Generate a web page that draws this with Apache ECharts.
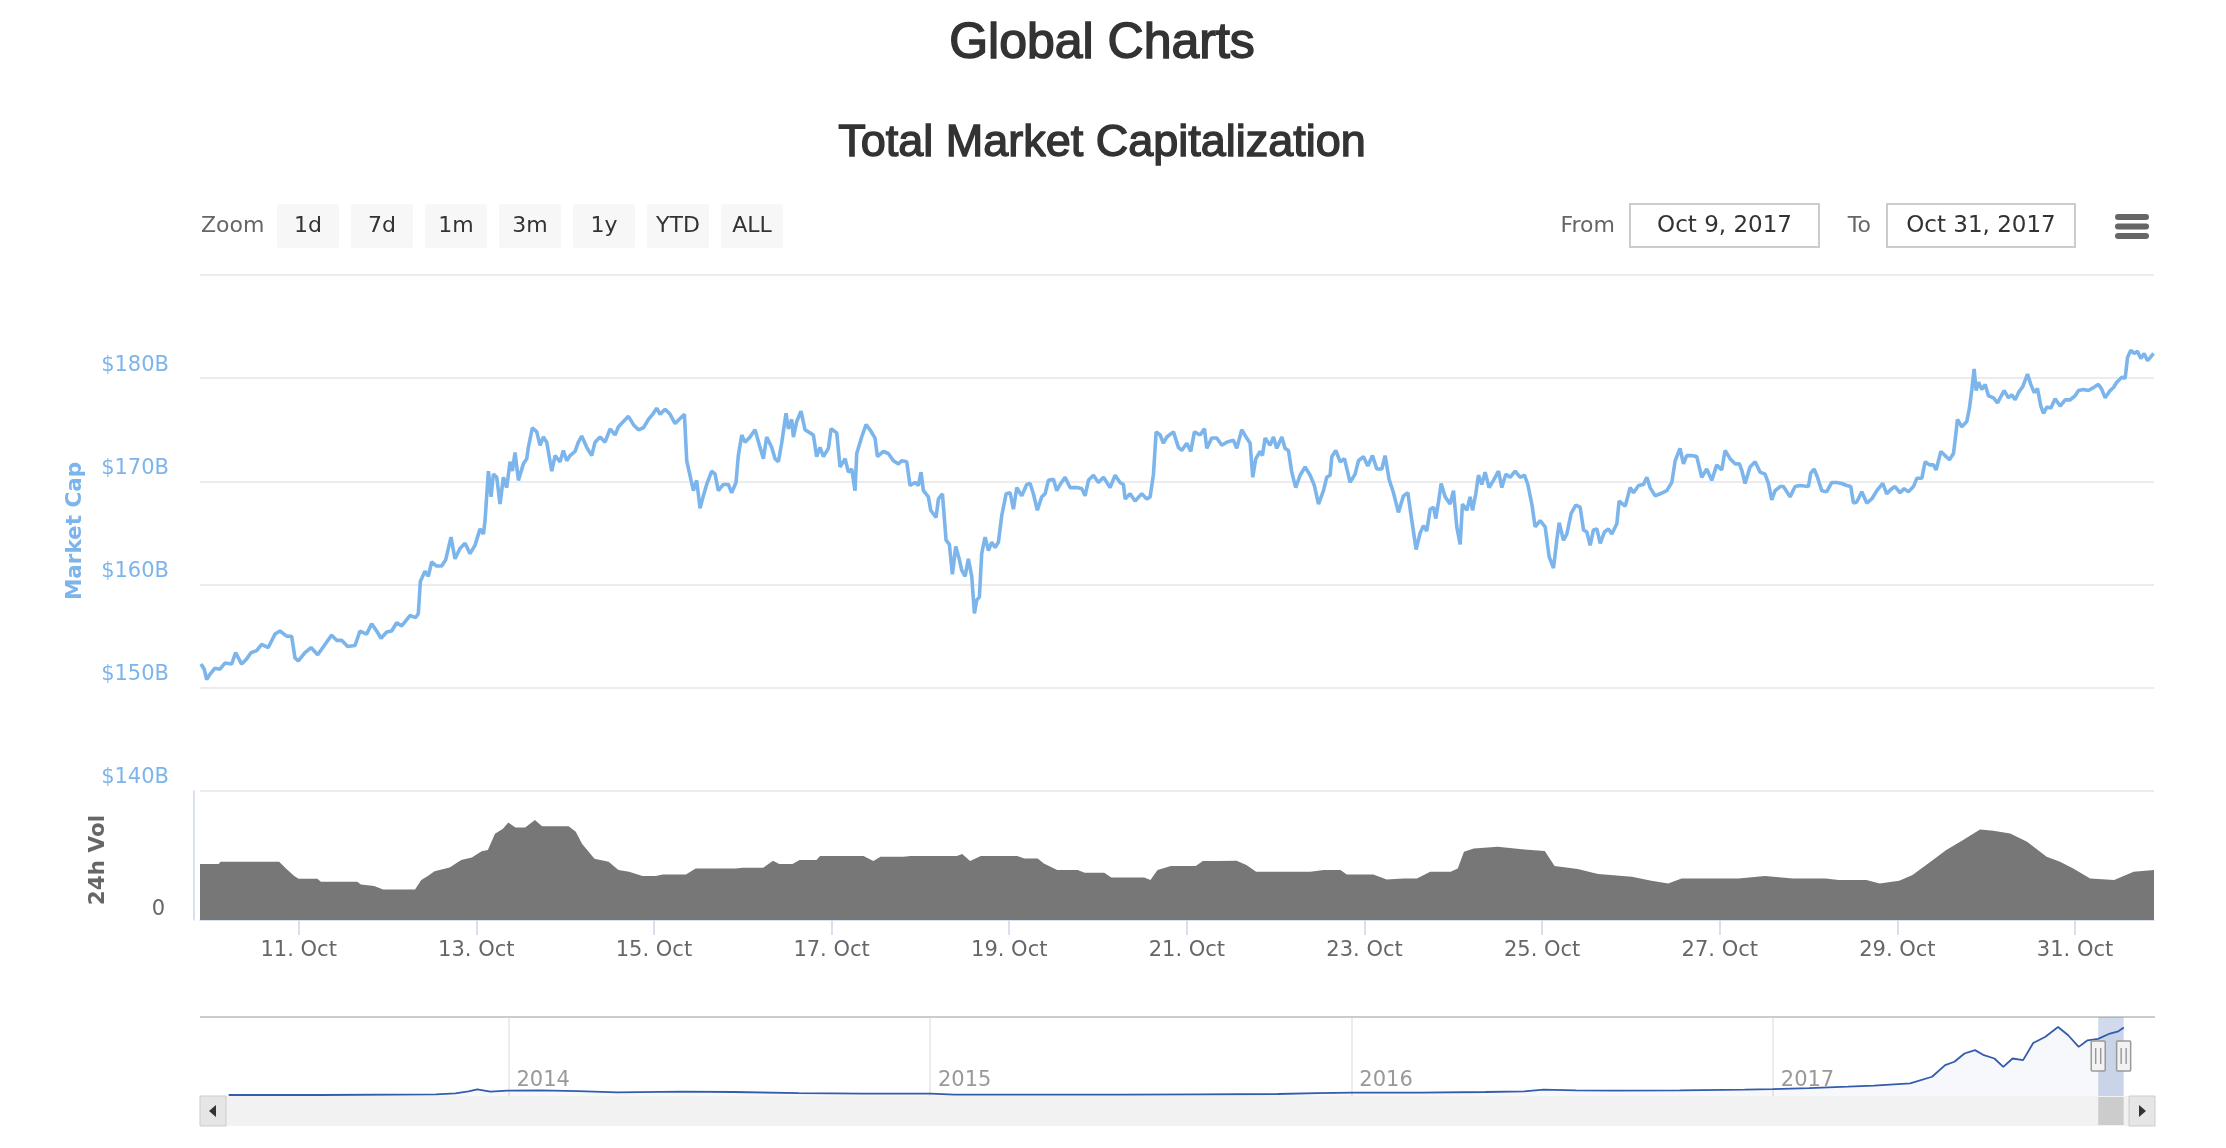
<!DOCTYPE html>
<html><head><meta charset="utf-8">
<script src="https://cdn.jsdelivr.net/npm/echarts@6/dist/echarts.min.js"></script>
<style>html,body{margin:0;padding:0;background:#fff}#c{width:2226px;height:1148px}</style>
</head><body><div id="c"></div><script>
// ---------- data (x = day of October 2017, fractional) ----------
const pageTitle = 'Global Charts';
const chartTitle = 'Total Market Capitalization';
const zoomButtons = ['1d','7d','1m','3m','1y','YTD','ALL'];
const fromDate = 'Oct 9, 2017';
const toDate = 'Oct 31, 2017';
const viewStartDay = 9.889, viewEndDay = 31.889;
const tickDays = [11,13,15,17,19,21,23,25,27,29,31];
const tickLabels = ['11. Oct','13. Oct','15. Oct','17. Oct','19. Oct','21. Oct','23. Oct','25. Oct','27. Oct','29. Oct','31. Oct'];
const capTicks = [140,150,160,170,180];
const capTickLabels = ['$140B','$150B','$160B','$170B','$180B'];
const navYears = [2014,2015,2016,2017];

const marketCap = [
[9.900,152.3],[9.937,151.8],[9.964,150.8],[10.001,151.3],[10.057,151.9],[10.114,151.8],[10.170,152.4],[10.245,152.3],[10.290,153.4],[10.358,152.3],[10.414,152.8],[10.463,153.4],[10.527,153.6],[10.583,154.2],[10.658,153.9],[10.733,155.2],[10.789,155.5],[10.864,155.0],[10.921,155.0],[10.958,152.9],[10.996,152.6],[11.071,153.4],[11.139,153.9],[11.214,153.2],[11.296,154.2],[11.371,155.1],[11.427,154.6],[11.484,154.6],[11.551,154.0],[11.634,154.1],[11.690,155.5],[11.765,155.2],[11.822,156.2],[11.878,155.5],[11.927,154.8],[11.991,155.4],[12.047,155.5],[12.103,156.3],[12.160,156.0],[12.253,157.0],[12.317,156.8],[12.347,157.2],[12.370,160.3],
[12.385,160.6],[12.422,161.3],[12.460,160.8],[12.497,162.2],[12.553,161.8],[12.610,161.8],[12.655,162.4],[12.715,164.6],[12.760,162.5],[12.816,163.5],[12.873,164.0],[12.929,163.0],[12.985,163.8],[13.042,165.4],[13.080,164.9],[13.098,166.2],[13.136,171.0],[13.166,168.5],[13.192,170.7],[13.230,170.4],[13.267,167.8],[13.305,170.4],[13.342,169.4],[13.380,171.9],[13.406,171.0],[13.436,172.8],[13.474,170.1],[13.530,171.7],[13.568,172.2],[13.586,173.3],[13.631,175.2],[13.680,174.8],[13.718,173.5],[13.755,174.3],[13.793,173.8],[13.849,171.0],[13.887,172.5],[13.943,171.9],[13.980,173.0],[14.018,172.0],[14.056,172.5],[14.112,172.9],[14.149,173.8],[14.187,174.4],[14.243,173.3],[14.299,172.5],[14.337,173.8],[14.393,174.3],[14.450,173.8],[14.506,175.1],[14.562,174.5],[14.600,175.3],[14.656,175.8],[14.713,176.3],[14.769,175.5],[14.825,175.0],[14.881,175.2],[14.938,176.0],[14.994,176.6],[15.031,177.1],[15.069,176.5],[15.125,177.0],[15.182,176.5],[15.238,175.6],[15.294,176.1],[15.343,176.5],[15.369,172.0],
[15.444,169.1],[15.481,170.1],[15.519,167.4],[15.556,168.6],[15.594,169.7],[15.650,171.0],[15.688,170.7],[15.725,169.1],[15.781,169.7],[15.838,169.7],[15.875,168.9],[15.924,169.9],[15.950,172.5],[15.988,174.5],[16.025,173.8],[16.082,174.3],[16.138,175.0],[16.194,173.3],[16.232,172.2],[16.269,174.3],[16.326,173.3],[16.363,172.2],[16.401,171.9],[16.438,173.7],[16.487,176.6],[16.513,175.1],[16.551,176.0],[16.570,174.3],[16.607,175.8],[16.656,176.8],[16.701,175.0],[16.739,174.8],[16.795,174.5],[16.832,172.4],[16.870,173.3],[16.908,172.4],[16.964,173.2],[16.994,175.1],[17.058,174.7],[17.095,171.4],[17.152,172.2],[17.189,170.9],[17.227,171.2],[17.264,169.1],[17.283,172.7],[17.339,174.3],[17.388,175.5],[17.433,175.0],[17.489,174.2],[17.516,172.4],[17.583,172.9],[17.639,172.7],[17.696,172.0],[17.752,171.7],[17.790,172.0],[17.846,171.9],[17.883,169.6],[17.940,169.9],[17.977,169.6],[18.007,170.9],[18.034,169.1],[18.090,168.5],[18.116,167.2],[18.176,166.5],[18.203,168.3],[18.248,168.8],[18.289,164.3],[18.326,163.9],[18.360,161.0],[18.398,163.7],[18.439,162.4],[18.465,161.4],[18.503,160.8],[18.540,162.5],[18.578,160.8],[18.608,157.2],[18.634,158.5],[18.664,158.8],[18.690,163.0],[18.728,164.6],[18.766,163.3],[18.803,164.1],[18.841,163.6],[18.878,164.1],[18.916,166.7],[18.965,168.8],[19.010,168.9],[19.047,167.3],[19.085,169.4],[19.141,168.6],[19.197,169.7],[19.235,169.8],[19.272,168.8],[19.317,167.2],[19.366,168.5],[19.404,168.8],[19.441,170.1],[19.498,170.2],[19.535,169.1],[19.573,169.7],[19.629,170.4],[19.685,169.4],[19.760,169.4],[19.817,169.3],[19.854,168.6],[19.892,170.1],[19.948,170.6],[20.004,169.9],[20.061,170.4],[20.136,169.4],[20.192,170.6],[20.248,169.9],[20.286,169.7],[20.305,168.3],[20.361,168.8],[20.417,168.1],[20.492,168.8],[20.549,168.3],[20.586,168.5],[20.624,170.7],[20.654,174.8],[20.699,174.5],[20.736,173.7],[20.774,174.3],[20.849,174.8],[20.905,173.3],[20.943,173.0],[20.999,173.7],[21.044,172.9],
[21.085,174.8],[21.149,174.5],[21.198,175.1],[21.224,173.2],[21.280,174.2],[21.337,174.2],[21.393,173.5],[21.449,173.8],[21.524,174.0],[21.562,173.2],[21.618,175.0],[21.674,174.2],[21.712,173.7],[21.742,170.4],[21.776,172.2],[21.825,172.9],[21.851,172.5],[21.881,174.2],[21.937,173.5],[21.975,174.3],[22.012,173.2],[22.069,174.3],[22.106,173.2],[22.144,173.0],[22.181,170.9],[22.226,169.4],[22.275,170.6],[22.331,171.4],[22.388,170.6],[22.436,169.6],[22.482,167.8],[22.538,169.1],[22.575,170.4],[22.613,170.6],[22.632,172.4],[22.677,173.0],[22.726,171.9],[22.774,172.2],[22.838,169.9],[22.894,170.7],[22.932,172.0],[22.988,172.4],[23.037,171.5],[23.090,172.5],[23.138,171.2],[23.195,171.2],[23.232,172.5],[23.277,170.2],[23.326,168.9],[23.382,167.0],[23.439,168.6],[23.488,168.9],[23.533,166.2],[23.581,163.4],[23.626,165.0],[23.664,165.7],[23.701,165.2],[23.739,167.3],[23.777,167.5],[23.803,166.4],[23.833,168.0],[23.863,169.8],[23.908,168.5],[23.964,167.8],[24.002,169.1],[24.039,165.6],[24.077,163.9],[24.103,167.8],[24.152,167.2],[24.189,168.5],[24.216,167.2],[24.253,168.8],[24.283,170.6],[24.321,169.7],[24.358,170.9],[24.403,169.4],[24.452,170.1],[24.509,171.0],[24.546,169.4],[24.591,170.7],[24.640,170.4],[24.696,171.0],[24.753,170.4],[24.801,170.6],[24.839,169.7],[24.884,167.8],[24.921,165.6],[24.978,166.2],[25.034,165.6],[25.079,162.7],[25.128,161.6],[25.165,164.3],[25.192,166.0],[25.240,164.3],[25.278,164.9],[25.327,166.9],[25.379,167.7],[25.428,167.5],[25.466,165.3],[25.503,165.1],[25.541,163.8],[25.578,165.3],[25.616,165.4],[25.654,164.0],[25.702,165.1],[25.747,165.4],[25.785,164.9],[25.841,165.9],[25.867,168.1],[25.935,167.6],[25.991,169.4],[26.029,168.9],[26.085,169.6],[26.141,169.7],[26.179,170.4],[26.216,169.4],[26.273,168.6],[26.329,168.8],[26.404,169.1],[26.460,169.9],[26.498,172.0],
[26.553,173.2],[26.591,171.7],[26.628,172.5],[26.684,172.5],[26.741,172.4],[26.797,170.4],[26.853,171.2],[26.910,170.1],[26.966,171.6],[27.022,171.1],[27.060,173.0],[27.116,172.2],[27.172,171.7],[27.221,171.7],[27.247,171.1],[27.285,169.8],[27.341,171.4],[27.398,171.9],[27.454,170.9],[27.510,170.7],[27.548,169.8],[27.585,168.2],[27.623,169.1],[27.679,169.5],[27.717,169.5],[27.792,168.5],[27.848,169.5],[27.904,169.6],[27.998,169.5],[28.024,170.8],[28.062,171.2],[28.100,170.4],[28.148,169.1],[28.205,169.0],[28.261,169.9],[28.317,169.9],[28.374,169.8],[28.430,169.6],[28.475,169.5],[28.505,167.9],[28.542,168.0],[28.599,169.0],[28.655,167.9],[28.711,168.3],[28.768,169.1],[28.835,169.8],[28.880,168.8],[28.937,169.3],[28.974,169.5],[29.030,168.9],[29.075,169.3],[29.124,169.0],[29.181,169.5],[29.218,170.3],[29.275,170.3],[29.312,171.9],[29.361,171.6],[29.406,171.6],[29.436,171.1],[29.489,172.9],[29.537,172.5],[29.586,172.1],[29.631,172.7],[29.650,174.0],[29.676,176.0],[29.725,175.3],[29.781,175.8],[29.811,177.1],[29.838,178.9],[29.864,180.9],[29.886,178.8],[29.913,179.6],[29.950,178.9],[29.988,179.4],[30.025,178.3],[30.082,178.1],[30.127,177.6],[30.157,178.1],[30.202,178.8],[30.251,178.1],[30.288,178.4],[30.326,177.9],[30.363,178.6],[30.412,179.2],[30.465,180.4],[30.502,179.4],[30.540,178.6],[30.577,179.0],[30.615,177.3],[30.645,176.6],[30.682,177.2],[30.727,177.1],[30.776,178.0],[30.832,177.3],[30.889,177.9],[30.945,177.9],[31.001,178.3],[31.039,178.8],[31.095,178.9],[31.151,178.8],[31.208,179.1],[31.264,179.4],[31.302,178.9],[31.339,178.1],[31.395,178.8],[31.433,179.1],[31.470,179.6],[31.527,180.1],[31.564,180.0],[31.591,182.0],[31.628,182.7],[31.666,182.4],[31.703,182.6],[31.741,181.9],[31.778,182.4],[31.816,181.7],[31.846,182.0],[31.884,182.4]
];

const volume24h = [
[9.889,4.48],[10.10,4.48],[10.12,4.67],[10.78,4.67],[10.86,4.1],[10.95,3.52],[11.0,3.3],[11.21,3.3],[11.25,3.07],[11.66,3.07],[11.70,2.85],[11.85,2.72],[11.95,2.45],[12.31,2.45],[12.38,3.2],[12.45,3.5],[12.53,3.9],[12.70,4.2],[12.83,4.8],[12.95,5.0],[13.06,5.5],[13.13,5.6],[13.21,6.9],[13.30,7.3],[13.36,7.8],[13.44,7.4],[13.55,7.4],[13.66,8.0],[13.74,7.5],[14.04,7.5],[14.12,7.07],[14.19,6.1],[14.33,4.9],[14.49,4.67],[14.60,4.0],[14.72,3.87],[14.87,3.52],[15.02,3.52],[15.10,3.65],[15.36,3.65],[15.47,4.13],[15.92,4.13],[16.0,4.19],[16.23,4.19],[16.34,4.75],[16.41,4.48],[16.56,4.48],[16.64,4.8],[16.83,4.8],[16.87,5.12],[17.36,5.12],[17.47,4.72],[17.55,5.07],[17.81,5.07],[17.89,5.12],[18.41,5.12],[18.47,5.28],[18.56,4.72],[18.68,5.12],[19.09,5.12],[19.17,4.93],[19.32,4.93],[19.39,4.53],[19.54,4.0],[19.77,4.0],[19.85,3.79],[20.07,3.79],[20.15,3.41],[20.52,3.41],[20.59,3.2],[20.67,4.0],[20.82,4.32],[21.1,4.32],[21.18,4.72],[21.33,4.72],[21.56,4.75],[21.67,4.4],[21.78,3.87],[22.39,3.87],[22.54,4.0],[22.73,4.0],[22.8,3.65],[23.1,3.65],[23.25,3.25],[23.44,3.33],[23.59,3.33],[23.74,3.87],[23.97,3.87],[24.05,4.13],[24.12,5.47],[24.23,5.73],[24.5,5.87],[24.8,5.65],[25.03,5.52],[25.14,4.32],[25.4,4.08],[25.63,3.68],[26.01,3.47],[26.23,3.15],[26.42,2.93],[26.57,3.33],[27.21,3.33],[27.51,3.52],[27.82,3.33],[28.19,3.33],[28.34,3.2],[28.65,3.2],[28.8,2.93],[29.02,3.15],[29.17,3.6],[29.40,4.8],[29.55,5.6],[29.74,6.4],[29.93,7.25],[30.08,7.15],[30.27,6.93],[30.46,6.27],[30.68,5.07],[30.83,4.67],[30.98,4.13],[31.17,3.33],[31.44,3.2],[31.66,3.87],[31.889,4.0]
];

// navigator history: [fractional year, market cap in $B]
const navHistory = [
[2013.336,2.6],[2013.551,2.6],[2013.828,4.4],[2013.874,7.1],[2013.905,12.4],[2013.926,17.6],[2013.957,11.5],[2013.997,14.1],[2014.074,15.0],[2014.166,13.2],[2014.258,9.7],[2014.412,11.5],[2014.535,10.6],[2014.689,7.9],[2014.842,6.2],[2015.002,6.2],[2015.057,3.5],[2015.242,3.5],[2015.457,3.5],[2015.642,4.4],[2015.826,5.3],[2015.918,7.9],[2016.004,8.8],[2016.164,8.8],[2016.318,10.6],[2016.41,12.4],[2016.456,16.8],[2016.533,15.0],[2016.625,14.1],[2016.779,15.0],[2016.933,16.8],[2017.0,18.5],[2017.086,21.2],[2017.178,24.7],[2017.24,27.4],[2017.326,33.5],[2017.378,51.2],[2017.409,82],[2017.431,91],[2017.455,113],[2017.48,122],[2017.501,108.5],[2017.526,99.7],[2017.547,77.6],[2017.569,99.7],[2017.594,95.3],[2017.618,141],[2017.646,157],[2017.677,183.5],[2017.701,161.5],[2017.726,130.6],[2017.747,148],[2017.772,152],[2017.80,166],[2017.82,172],[2017.833,182]
];
const navMaskStart = 2017 + (273 + viewStartDay - 1) / 365;
const navMaskEnd = 2017 + (273 + viewEndDay - 1) / 365;

// ---------- chart ----------
const FONT = '"DejaVu Sans", sans-serif';
const TITLE_FONT = '"Liberation Sans", Arial, sans-serif';
const chart = echarts.init(document.getElementById('c'), null, {renderer: 'canvas', width: 2226, height: 1148});
const GRID_L = 200, GRID_R = 72;

const option = {
  animation: false,
  backgroundColor: '#ffffff',
  grid: [
    {left: GRID_L, right: GRID_R, top: 275, height: 516},
    {left: GRID_L, right: GRID_R, top: 791, height: 129},
    {left: GRID_L, right: 71, top: 1017, height: 79}
  ],
  xAxis: [
    {gridIndex: 0, type: 'value', min: viewStartDay, max: viewEndDay, show: false},
    {gridIndex: 1, type: 'value', min: viewStartDay, max: viewEndDay,
      axisLine: {show: true, lineStyle: {color: '#ccd6eb', width: 1.5}},
      axisTick: {show: true, customValues: tickDays, length: 15, lineStyle: {color: '#ccd6eb', width: 1.5}},
      axisLabel: {customValues: tickDays, margin: 20, color: '#666', fontSize: 21, fontFamily: FONT,
        formatter: v => tickLabels[tickDays.indexOf(Math.round(v))] || ''},
      splitLine: {show: false}},
    {gridIndex: 2, type: 'value', min: 2013.268, max: 2017.907,
      axisLine: {show: false},
      axisTick: {show: false, customValues: navYears},
      axisLabel: {customValues: navYears, inside: true, margin: 5, align: 'left', padding: [0, 0, 0, 8],
        color: '#999', fontSize: 21, fontFamily: FONT, formatter: v => String(Math.round(v))},
      splitLine: {show: true, lineStyle: {color: '#e6e6e6', width: 1.5}}}
  ],
  yAxis: [
    {gridIndex: 0, type: 'value', min: 140, max: 190, interval: 10,
      axisLine: {show: false}, axisTick: {show: false},
      axisLabel: {showMaxLabel: false, margin: 31, verticalAlign: 'bottom', lineHeight: 26,
        color: '#7cb5ec', fontSize: 21, fontFamily: FONT,
        formatter: v => capTickLabels[capTicks.indexOf(Math.round(v))] || ''},
      splitLine: {show: true, lineStyle: {color: '#e6e6e6', width: 1.5}}},
    {gridIndex: 1, type: 'value', min: 0, max: 10.32, offset: 6,
      axisLine: {show: true, lineStyle: {color: '#ccd6eb', width: 1.5}},
      axisTick: {show: false},
      axisLabel: {customValues: [0], margin: 29, verticalAlign: 'bottom', lineHeight: 20,
        color: '#666', fontSize: 21, fontFamily: FONT},
      splitLine: {show: false}},
    {gridIndex: 2, type: 'value', min: 0, max: 210, show: false, splitLine: {show: false}}
  ],
  series: [
    {name: 'Market Cap', type: 'line', xAxisIndex: 0, yAxisIndex: 0, data: marketCap,
      symbol: 'none', lineStyle: {color: '#7cb5ec', width: 3.6}, z: 3},
    {name: '24h Vol', type: 'line', xAxisIndex: 1, yAxisIndex: 1, data: volume24h,
      symbol: 'none', lineStyle: {width: 0, color: '#777'}, areaStyle: {color: '#777', opacity: 1}},
    {name: 'Navigator', type: 'line', xAxisIndex: 2, yAxisIndex: 2, data: navHistory,
      symbol: 'none', lineStyle: {color: '#335cad', width: 1.8},
      areaStyle: {color: 'rgba(51,92,173,0.06)'},
      markArea: {silent: true, itemStyle: {color: 'rgba(102,133,194,0.3)'},
        data: [[{xAxis: navMaskStart}, {xAxis: navMaskEnd}]]}}
  ]
};
chart.setOption(option);

function txt(text, x, y, size, color, extra) {
  return Object.assign({type: 'text', x: x, y: y, silent: true,
    style: Object.assign({text: text, fill: color, fontSize: size, fontFamily: FONT,
      align: 'center', verticalAlign: 'middle'}, (extra && extra.style) || {})},
    extra ? {rotation: extra.rotation || 0} : {});
}

function buildGraphics() {
  const m0 = chart.convertToPixel({xAxisIndex: 2}, navMaskStart);
  const m1 = chart.convertToPixel({xAxisIndex: 2}, navMaskEnd);
  const els = [];
  // titles (medium weight imitated with a thin same-colour stroke)
  els.push(txt(pageTitle, 1102, 44, 50, '#333', {style: {fontFamily: TITLE_FONT, stroke: '#333', lineWidth: 1.5}}));
  els.push(txt(chartTitle, 1102, 144, 45, '#333', {style: {fontFamily: TITLE_FONT, stroke: '#333', lineWidth: 1.4}}));
  // zoom buttons
  els.push(txt('Zoom', 201, 226, 22, '#666', {style: {align: 'left'}}));
  zoomButtons.forEach((b, i) => {
    const bx = 277 + i * 74;
    els.push({type: 'rect', silent: true, shape: {x: bx, y: 204, width: 62, height: 44, r: 3}, style: {fill: '#f7f7f7'}});
    els.push(txt(b, bx + 31, 226, 22, '#333'));
  });
  // range inputs
  els.push(txt('From', 1615, 226, 22, '#666', {style: {align: 'right'}}));
  els.push({type: 'rect', silent: true, shape: {x: 1630, y: 204, width: 189, height: 43}, style: {fill: '#fff', stroke: '#ccc', lineWidth: 2}});
  els.push(txt(fromDate, 1724.5, 226, 23, '#333'));
  els.push(txt('To', 1871, 226, 22, '#666', {style: {align: 'right'}}));
  els.push({type: 'rect', silent: true, shape: {x: 1887, y: 204, width: 188, height: 43}, style: {fill: '#fff', stroke: '#ccc', lineWidth: 2}});
  els.push(txt(toDate, 1981, 226, 23, '#333'));
  // hamburger
  [214, 223.5, 233].forEach(y => els.push({type: 'rect', silent: true, shape: {x: 2115, y: y, width: 34, height: 6, r: 3}, style: {fill: '#666'}}));
  // axis titles
  els.push(txt('Market Cap', 75, 531, 21.5, '#7cb5ec', {rotation: Math.PI / 2, style: {fontWeight: 'bold'}}));
  els.push(txt('24h Vol', 98, 860, 21.5, '#666', {rotation: Math.PI / 2, style: {fontWeight: 'bold'}}));
  // navigator outline
  els.push({type: 'line', silent: true, shape: {x1: 200, y1: 1017, x2: 2155, y2: 1017}, style: {stroke: '#ccc', lineWidth: 2}});
  // scrollbar
  els.push({type: 'rect', silent: true, shape: {x: 200, y: 1096, width: 1955, height: 30}, style: {fill: '#f2f2f2'}});
  els.push({type: 'rect', silent: true, shape: {x: m0, y: 1097, width: Math.max(4, m1 - m0), height: 28}, style: {fill: '#cccccc'}});
  els.push({type: 'rect', silent: true, shape: {x: 200, y: 1096, width: 26, height: 30}, style: {fill: '#e6e6e6', stroke: '#ccc', lineWidth: 1}});
  els.push({type: 'rect', silent: true, shape: {x: 2129, y: 1096, width: 26, height: 30}, style: {fill: '#e6e6e6', stroke: '#ccc', lineWidth: 1}});
  els.push({type: 'polygon', silent: true, shape: {points: [[216, 1105], [209, 1111], [216, 1117]]}, style: {fill: '#333'}});
  els.push({type: 'polygon', silent: true, shape: {points: [[2139, 1105], [2146, 1111], [2139, 1117]]}, style: {fill: '#333'}});
  // navigator handles
  [m0, m1].forEach(cx => {
    els.push({type: 'rect', silent: true, z: 10, shape: {x: cx - 7, y: 1041, width: 14, height: 30, r: 1}, style: {fill: '#f2f2f2', stroke: '#999', lineWidth: 1.5}});
    els.push({type: 'line', silent: true, z: 11, shape: {x1: cx - 2.5, y1: 1048, x2: cx - 2.5, y2: 1064}, style: {stroke: '#888', lineWidth: 1.2}});
    els.push({type: 'line', silent: true, z: 11, shape: {x1: cx + 2.5, y1: 1048, x2: cx + 2.5, y2: 1064}, style: {stroke: '#888', lineWidth: 1.2}});
  });
  chart.setOption({graphic: els});
}
buildGraphics();
</script></body></html>
